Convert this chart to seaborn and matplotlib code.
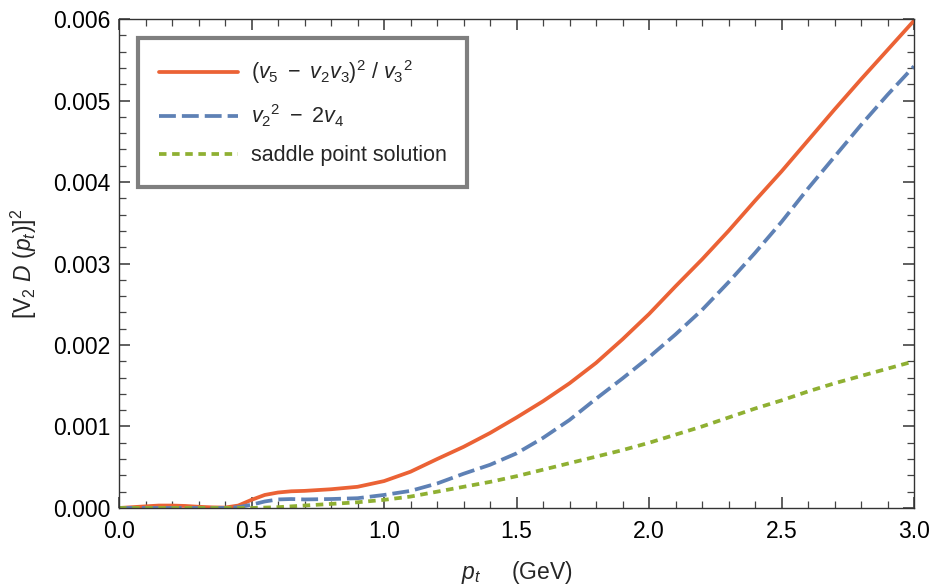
import matplotlib
matplotlib.use("Agg")
import matplotlib.pyplot as plt
import seaborn as sns
import pandas as pd
from matplotlib.ticker import MultipleLocator, FormatStrFormatter

# ---- data ----
x_orange = [0.0, 0.05, 0.1, 0.15, 0.2, 0.25, 0.3, 0.35, 0.4, 0.45, 0.5, 0.55, 0.6, 0.65,
            0.7, 0.8, 0.9, 1.0, 1.1, 1.2, 1.3, 1.4, 1.5, 1.6, 1.7, 1.8, 1.9, 2.0, 2.1,
            2.2, 2.3, 2.4, 2.5, 2.6, 2.7, 2.8, 2.9, 3.0]
y_orange = [0.0, 0.00001, 0.00002, 0.00003, 0.00003, 0.000025, 0.000015, 0.000008,
            0.000005, 0.00003, 0.0001, 0.00016, 0.00019, 0.000205, 0.00021, 0.00023,
            0.00026, 0.00033, 0.000445, 0.0006, 0.00075, 0.00092, 0.00111, 0.00131,
            0.00153, 0.00178, 0.00207, 0.00238, 0.00272, 0.00305, 0.00340, 0.00377,
            0.00413, 0.00451, 0.00489, 0.00526, 0.00562, 0.00598]

x_blue = [0.0, 0.1, 0.2, 0.3, 0.4, 0.45, 0.5, 0.55, 0.6, 0.65, 0.7, 0.8, 0.9, 1.0, 1.1,
          1.2, 1.3, 1.4, 1.5, 1.6, 1.7, 1.8, 1.9, 2.0, 2.1, 2.2, 2.3, 2.4, 2.5, 2.6,
          2.7, 2.8, 2.9, 3.0]
y_blue = [0.0, 0.0, 0.0, 0.0, 0.0, 0.00001, 0.00004, 0.00008, 0.000105, 0.00011,
          0.000105, 0.00011, 0.00012, 0.00016, 0.00021, 0.0003, 0.00042, 0.00053,
          0.00067, 0.00086, 0.00108, 0.00134, 0.00159, 0.00185, 0.00213, 0.00243,
          0.00277, 0.00313, 0.00351, 0.00392, 0.00431, 0.00470, 0.00507, 0.00542]

x_green = [0.0, 0.1, 0.2, 0.3, 0.4, 0.5, 0.6, 0.7, 0.8, 0.9, 1.0, 1.1, 1.2, 1.3, 1.4,
           1.5, 1.6, 1.7, 1.8, 1.9, 2.0, 2.1, 2.2, 2.3, 2.4, 2.5, 2.6, 2.7, 2.8, 2.9, 3.0]
y_green = [0.0, 0.0, 0.0, 0.0, 0.0, 0.0, 0.00001, 0.00003, 0.00005, 0.00007, 0.0001,
           0.00014, 0.0002, 0.00026, 0.00032, 0.00039, 0.00047, 0.00055, 0.00063,
           0.00071, 0.0008, 0.0009, 0.001, 0.00111, 0.00122, 0.00132, 0.00143,
           0.00153, 0.00162, 0.00171, 0.0018]

labels = [r"$(v_5\ -\ v_2 v_3)^2\ /\ {v_3}^2$",
          r"${v_2}^2\ -\ 2v_4$",
          "saddle point solution"]
colors = ["#EB6235", "#5E81B5", "#8FB032"]

x_ticks = [0.0, 0.5, 1.0, 1.5, 2.0, 2.5, 3.0]
y_ticks = [0.000, 0.001, 0.002, 0.003, 0.004, 0.005, 0.006]

df = pd.concat([
    pd.DataFrame({"pt": x_orange, "val": y_orange, "series": labels[0]}),
    pd.DataFrame({"pt": x_blue, "val": y_blue, "series": labels[1]}),
    pd.DataFrame({"pt": x_green, "val": y_green, "series": labels[2]}),
], ignore_index=True)

sns.set_theme(style="white")
plt.rcParams["font.family"] = ["Liberation Sans", "DejaVu Sans"]
plt.rcParams["mathtext.fontset"] = "custom"
plt.rcParams["mathtext.rm"] = "Liberation Sans"
plt.rcParams["mathtext.it"] = "Liberation Sans:italic"
plt.rcParams["mathtext.bf"] = "Liberation Sans:bold"

fig = plt.figure(figsize=(9.32, 5.87), dpi=100)
ax = fig.add_axes([0.1277, 0.1346, 0.8530, 0.8330])

sns.lineplot(data=df, x="pt", y="val", hue="series", style="series",
             hue_order=labels, style_order=labels,
             palette=dict(zip(labels, colors)),
             dashes={labels[0]: "", labels[1]: (4.5, 1.6), labels[2]: (2.0, 1.5)},
             linewidth=2.7, ax=ax, sort=True, estimator=None)

ax.set_xlim(0, 3.0)
ax.set_ylim(0, 0.006)
ax.set_xticks(x_ticks)
ax.set_yticks(y_ticks)
ax.xaxis.set_major_formatter(FormatStrFormatter("%.1f"))
ax.yaxis.set_major_formatter(FormatStrFormatter("%.3f"))
ax.xaxis.set_minor_locator(MultipleLocator(0.1))
ax.yaxis.set_minor_locator(MultipleLocator(0.0002))

ax.tick_params(which="both", direction="in", top=True, right=True,
               bottom=True, left=True, labelsize=16.5, colors="#444444",
               labelcolor="black")
ax.tick_params(which="major", length=8, width=1.2, pad=6)
ax.tick_params(which="minor", length=5, width=0.9)
ax.tick_params(axis="x", which="major", pad=9)

for s in ax.spines.values():
    s.set_color("#333333")
    s.set_linewidth(1.0)
    s.set_visible(True)

ax.set_xlabel(r"$p_t\quad\ \ $(GeV)", fontsize=16.5, labelpad=11)
ax.set_ylabel(r"$[\mathrm{V}_2\ D\ (p_t)]^2$", fontsize=16.5, labelpad=10)

leg = ax.legend(loc="upper left", bbox_to_anchor=(0.024, 0.961),
                borderaxespad=0, fontsize=15.5, frameon=True, fancybox=False,
                handlelength=3.7, handletextpad=0.6, labelspacing=0.75,
                borderpad=0.95, title=None)
leg.get_frame().set_edgecolor("#7f7f7f")
leg.get_frame().set_linewidth(3)
leg.get_frame().set_alpha(1)

fig.savefig("out.png", dpi=100)
